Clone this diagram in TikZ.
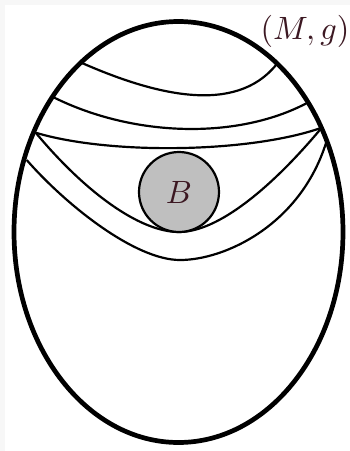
\documentclass[tikz,border=0pt]{standalone}
\definecolor{txt}{RGB}{60,24,34}
\definecolor{bgstrip}{RGB}{247,247,247}
\begin{document}
\begin{tikzpicture}[x=0.31pt,y=-0.31pt,
  outer/.style={line width=1.46pt},
  thin curve/.style={line width=0.68pt},
  ball/.style={circle,draw,line width=0.68pt,fill=lightgray,minimum size=80*0.31pt,inner sep=0pt,text=txt}]
\useasboundingbox (0,0) rectangle (350,451);
\fill[bgstrip] (0,0) rectangle (350,451);
\fill[white] (5,5) rectangle (350,451);
% endpoints on the outer ellipse
\coordinate (a1) at (82,63);     \coordinate (b1) at (276,65);
\coordinate (a2) at (53,97);     \coordinate (b2) at (307,103);
\coordinate (a3) at (35.7,132.7);\coordinate (b3) at (321.7,127.7);
\coordinate (a5) at (26.7,160);  \coordinate (b5) at (326,143);
\coordinate (m4) at (179,232);   \coordinate (m5) at (180,260);
% curves
\draw[thin curve] (a1) .. controls (155,95) and (235,115) .. (b1);
\draw[thin curve] (a2) .. controls (133,137) and (237,140) .. (b2);
\draw[thin curve] (a3) .. controls (110,155) and (250,153) .. (b3);
\draw[thin curve] (a3) .. controls (85.7,192.7) and (140,232) .. (m4)
                        .. controls (218,232) and (271.7,187.7) .. (b3);
\draw[thin curve] (a5) .. controls (66,205) and (135,260) .. (m5)
                        .. controls (225,260) and (300,225) .. (b5);
% ball
\node[ball] (B) at (179,192) {$B$};
% outer boundary
\draw[outer] (178.5,232) ellipse [x radius=164.5, y radius=210.5];
\node[text=txt,inner sep=0pt] (Mg) at (305,31) {$(M,g)$};
\end{tikzpicture}
\end{document}
